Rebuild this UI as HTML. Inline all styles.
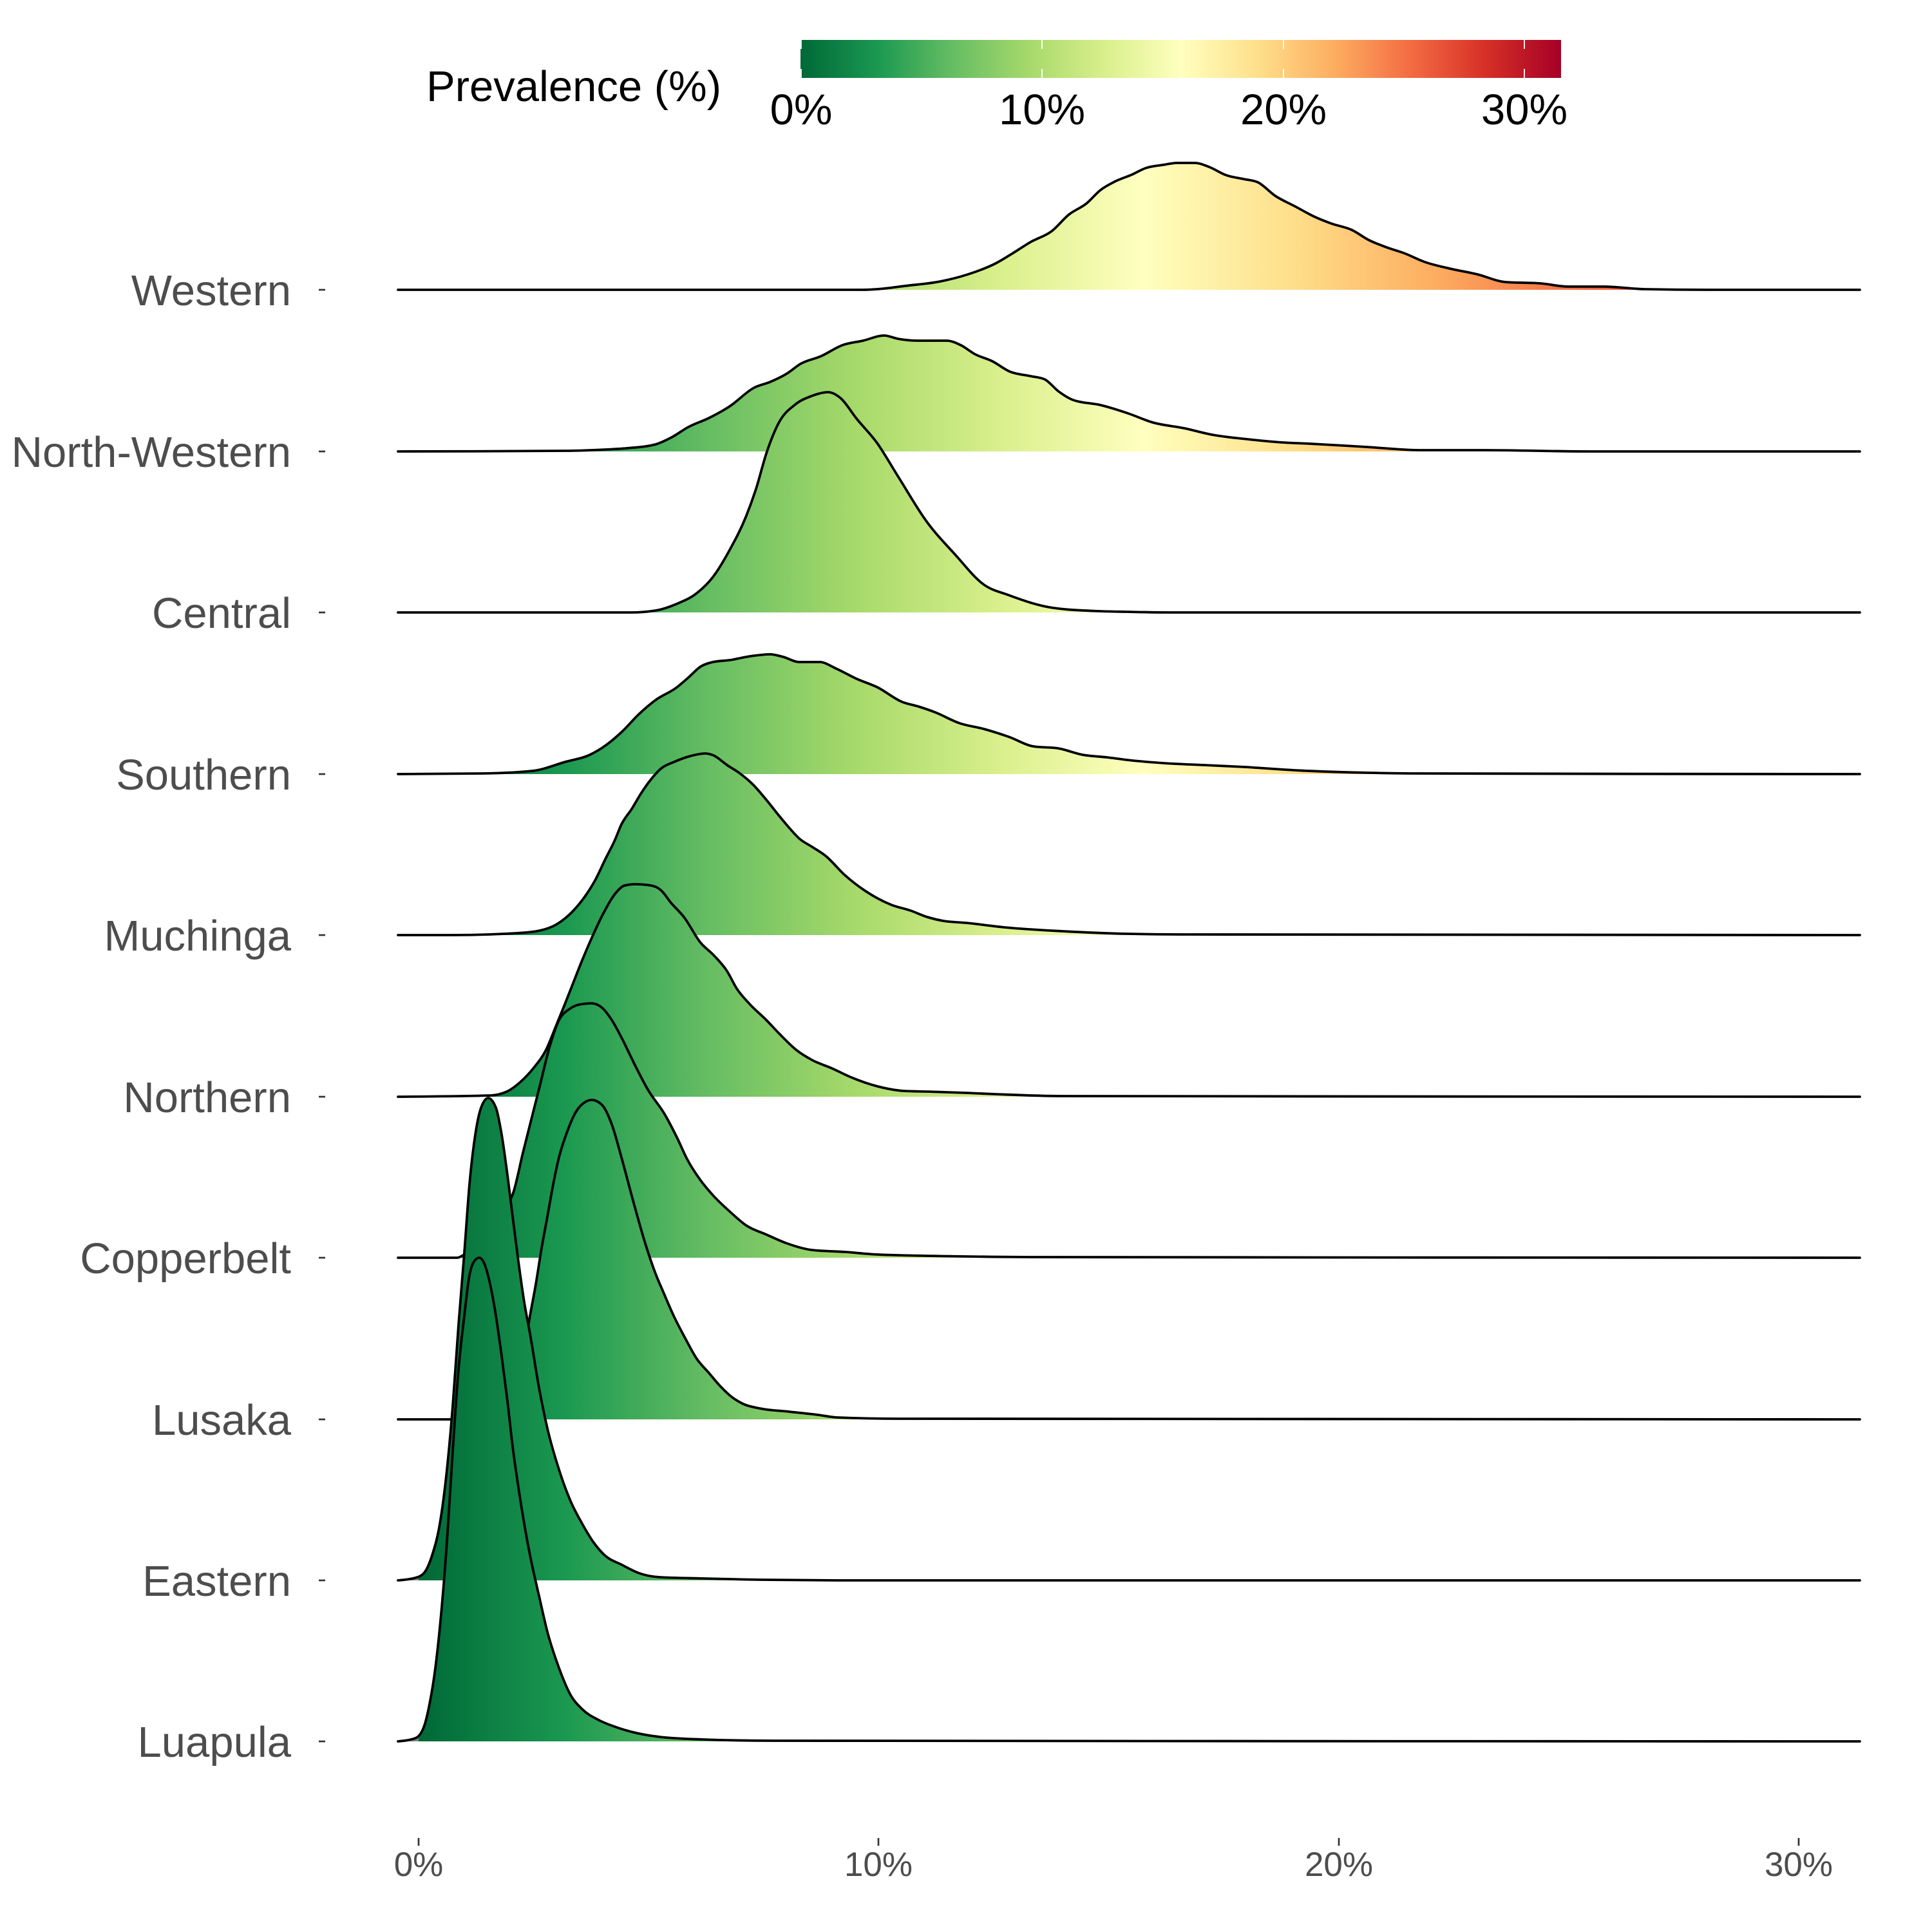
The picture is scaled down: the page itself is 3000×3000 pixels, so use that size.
<!DOCTYPE html>
<html>
<head>
<meta charset="utf-8">
<style>
  html, body { margin: 0; padding: 0; background: #ffffff; }
  svg { display: block; }
  .ylab { font-family: "Liberation Sans", Arial, sans-serif; font-size: 67px; fill: #4D4D4D; text-anchor: end; }
  .xlab { font-family: "Liberation Sans", Arial, sans-serif; font-size: 53px; fill: #4D4D4D; text-anchor: middle; }
  .leg  { font-family: "Liberation Sans", Arial, sans-serif; font-size: 67px; fill: #000000; text-anchor: middle; }
  .legt { font-family: "Liberation Sans", Arial, sans-serif; font-size: 67px; fill: #000000; }
  .ln { fill: none; stroke: #000; stroke-width: 3.8; stroke-linejoin: round; stroke-linecap: round; }
</style>
</head>
<body>
<svg width="3000" height="3000" viewBox="0 0 3000 3000" xmlns="http://www.w3.org/2000/svg">
  <defs>
    <linearGradient id="rg" gradientUnits="userSpaceOnUse" x1="600" y1="0" x2="2900" y2="0">
      <stop offset="0" stop-color="#7F7F7F"/>
      <stop offset="0.02174" stop-color="#7F7F7F"/>
      <stop offset="0.02174" stop-color="#006837"/>
      <stop offset="0.11957" stop-color="#1A9850"/>
      <stop offset="0.21739" stop-color="#66BD63"/>
      <stop offset="0.31522" stop-color="#A6D96A"/>
      <stop offset="0.41304" stop-color="#D9EF8B"/>
      <stop offset="0.51087" stop-color="#FFFFBF"/>
      <stop offset="0.60870" stop-color="#FEE08B"/>
      <stop offset="0.70652" stop-color="#FDAE61"/>
      <stop offset="0.80435" stop-color="#F46D43"/>
      <stop offset="0.90217" stop-color="#D73027"/>
      <stop offset="1" stop-color="#A50026"/>
    </linearGradient>
    <linearGradient id="cb" x1="0" y1="0" x2="1" y2="0">
      <stop offset="0" stop-color="#006837"/>
      <stop offset="0.1" stop-color="#1A9850"/>
      <stop offset="0.2" stop-color="#66BD63"/>
      <stop offset="0.3" stop-color="#A6D96A"/>
      <stop offset="0.4" stop-color="#D9EF8B"/>
      <stop offset="0.5" stop-color="#FFFFBF"/>
      <stop offset="0.6" stop-color="#FEE08B"/>
      <stop offset="0.7" stop-color="#FDAE61"/>
      <stop offset="0.8" stop-color="#F46D43"/>
      <stop offset="0.9" stop-color="#D73027"/>
      <stop offset="1" stop-color="#A50026"/>
    </linearGradient>
  </defs>

  <rect x="0" y="0" width="3000" height="3000" fill="#ffffff"/>

  <!-- Legend -->
  <text class="legt" x="662" y="157">Prevalence (%)</text>
  <rect x="1243" y="62" width="1181" height="59" fill="url(#cb)"/>
  <g stroke="#ffffff" stroke-width="1.8">
    <line x1="1244" y1="62" x2="1244" y2="76"/><line x1="1244" y1="107" x2="1244" y2="121"/>
    <line x1="1618" y1="62" x2="1618" y2="76"/><line x1="1618" y1="107" x2="1618" y2="121"/>
    <line x1="1993" y1="62" x2="1993" y2="76"/><line x1="1993" y1="107" x2="1993" y2="121"/>
    <line x1="2367" y1="62" x2="2367" y2="76"/><line x1="2367" y1="107" x2="2367" y2="121"/>
  </g>
  <text class="leg" x="1244" y="193">0%</text>
  <text class="leg" x="1618" y="193">10%</text>
  <text class="leg" x="1993" y="193">20%</text>
  <text class="leg" x="2367" y="193">30%</text>

  <!-- Y axis labels and ticks -->
  <text class="ylab" x="452" y="474">Western</text>
  <text class="ylab" x="452" y="725">North-Western</text>
  <text class="ylab" x="452" y="975">Central</text>
  <text class="ylab" x="452" y="1226">Southern</text>
  <text class="ylab" x="452" y="1476">Muchinga</text>
  <text class="ylab" x="452" y="1727">Northern</text>
  <text class="ylab" x="452" y="1977">Copperbelt</text>
  <text class="ylab" x="452" y="2228">Lusaka</text>
  <text class="ylab" x="452" y="2478">Eastern</text>
  <text class="ylab" x="452" y="2728">Luapula</text>
  <g stroke="#333333" stroke-width="2.7">
    <line x1="495" y1="450" x2="505" y2="450"/>
    <line x1="495" y1="701" x2="505" y2="701"/>
    <line x1="495" y1="951" x2="505" y2="951"/>
    <line x1="495" y1="1202" x2="505" y2="1202"/>
    <line x1="495" y1="1452" x2="505" y2="1452"/>
    <line x1="495" y1="1703" x2="505" y2="1703"/>
    <line x1="495" y1="1953" x2="505" y2="1953"/>
    <line x1="495" y1="2204" x2="505" y2="2204"/>
    <line x1="495" y1="2454" x2="505" y2="2454"/>
    <line x1="495" y1="2704" x2="505" y2="2704"/>
  </g>

  <!-- X axis ticks and labels -->
  <g stroke="#333333" stroke-width="2.7">
    <line x1="650" y1="2854" x2="650" y2="2866"/>
    <line x1="1364" y1="2854" x2="1364" y2="2866"/>
    <line x1="2079" y1="2854" x2="2079" y2="2866"/>
    <line x1="2793" y1="2854" x2="2793" y2="2866"/>
  </g>
  <text class="xlab" x="650" y="2913">0%</text>
  <text class="xlab" x="1364" y="2913">10%</text>
  <text class="xlab" x="2079" y="2913">20%</text>
  <text class="xlab" x="2793" y="2913">30%</text>

  <!-- Western -->
  <path fill="url(#rg)" d="M618,450 L1340,450 L1362,449 L1405,444 L1460,437 L1503,426 L1546,409 L1573,393 L1600,376 L1633,359 L1660,333 L1687,316 L1709,295 L1731,282 L1758,271 L1779,261 L1806,256 L1828,253 L1855,253 L1877,259 L1904,272 L1931,278 L1953,283 L1980,304 L2012,321 L2040,336 L2067,347 L2099,357 L2126,373 L2153,384 L2180,393 L2213,407 L2251,417 L2294,426 L2338,438 L2392,440 L2435,445 L2489,445 L2554,449 L2650,450 L2888,450 Z"/>
  <path class="ln" d="M618,450 L1340,450 L1362,449 L1405,444 L1460,437 L1503,426 L1546,409 L1573,393 L1600,376 L1633,359 L1660,333 L1687,316 L1709,295 L1731,282 L1758,271 L1779,261 L1806,256 L1828,253 L1855,253 L1877,259 L1904,272 L1931,278 L1953,283 L1980,304 L2012,321 L2040,336 L2067,347 L2099,357 L2126,373 L2153,384 L2180,393 L2213,407 L2251,417 L2294,426 L2338,438 L2392,440 L2435,445 L2489,445 L2554,449 L2650,450 L2888,450"/>

  <!-- North-Western -->
  <path fill="url(#rg)" d="M618,701 L878,700 L941,698 L973,696 L1018,690 L1043,679 L1069,663 L1101,649 L1133,631 L1171,602 L1196,593 L1222,580 L1243,565 L1275,553 L1308,536 L1340,529 L1373,521 L1394,526 L1427,529 L1470,529 L1492,536 L1514,550 L1541,561 L1568,577 L1600,584 L1622,589 L1644,608 L1666,621 L1709,629 L1752,642 L1790,656 L1839,665 L1882,675 L1937,682 L1991,687 L2034,689 L2088,692 L2121,694 L2208,699 L2305,699 L2468,701 L2888,701 Z"/>
  <path class="ln" d="M618,701 L878,700 L941,698 L973,696 L1018,690 L1043,679 L1069,663 L1101,649 L1133,631 L1171,602 L1196,593 L1222,580 L1243,565 L1275,553 L1308,536 L1340,529 L1373,521 L1394,526 L1427,529 L1470,529 L1492,536 L1514,550 L1541,561 L1568,577 L1600,584 L1622,589 L1644,608 L1666,621 L1709,629 L1752,642 L1790,656 L1839,665 L1882,675 L1937,682 L1991,687 L2034,689 L2088,692 L2121,694 L2208,699 L2305,699 L2468,701 L2888,701"/>

  <!-- Central -->
  <path fill="url(#rg)" d="M618,951 L980,951 L1018,948 L1050,938 L1082,921 L1107,896 L1133,854 L1158,803 L1174,759 L1190,704 L1209,657 L1235,628 L1260,615 L1286,609 L1305,618 L1330,650 L1362,688 L1394,739 L1439,810 L1483,861 L1528,908 L1566,924 L1636,944 L1707,949 L1750,950 L1817,951 L2888,951 Z"/>
  <path class="ln" d="M618,951 L980,951 L1018,948 L1050,938 L1082,921 L1107,896 L1133,854 L1158,803 L1174,759 L1190,704 L1209,657 L1235,628 L1260,615 L1286,609 L1305,618 L1330,650 L1362,688 L1394,739 L1439,810 L1483,861 L1528,908 L1566,924 L1636,944 L1707,949 L1750,950 L1817,951 L2888,951"/>

  <!-- Southern -->
  <path fill="url(#rg)" d="M618,1202 L750,1201 L827,1197 L878,1183 L916,1172 L941,1157 L967,1135 L992,1109 L1018,1087 L1050,1068 L1069,1052 L1088,1035 L1107,1028 L1133,1025 L1165,1019 L1196,1016 L1216,1020 L1241,1028 L1273,1028 L1298,1038 L1330,1054 L1362,1067 L1401,1090 L1426,1097 L1452,1106 L1490,1123 L1528,1132 L1566,1144 L1605,1159 L1643,1162 L1681,1172 L1719,1176 L1750,1180 L1807,1185 L1870,1188 L1933,1191 L2010,1196 L2127,1200 L2200,1201 L2888,1202 Z"/>
  <path class="ln" d="M618,1202 L750,1201 L827,1197 L878,1183 L916,1172 L941,1157 L967,1135 L992,1109 L1018,1087 L1050,1068 L1069,1052 L1088,1035 L1107,1028 L1133,1025 L1165,1019 L1196,1016 L1216,1020 L1241,1028 L1273,1028 L1298,1038 L1330,1054 L1362,1067 L1401,1090 L1426,1097 L1452,1106 L1490,1123 L1528,1132 L1566,1144 L1605,1159 L1643,1162 L1681,1172 L1719,1176 L1750,1180 L1807,1185 L1870,1188 L1933,1191 L2010,1196 L2127,1200 L2200,1201 L2888,1202"/>

  <!-- Muchinga -->
  <path fill="url(#rg)" d="M618,1452 L700,1452 L802,1449 L838,1445 L863,1436 L894,1410 L909,1391 L924,1367 L940,1334 L955,1304 L965,1280 L981,1256 L996,1231 L1011,1210 L1027,1193 L1047,1183 L1072,1174 L1095,1170 L1108,1173 L1129,1188 L1149,1201 L1169,1218 L1190,1242 L1210,1267 L1226,1286 L1241,1302 L1261,1315 L1282,1329 L1312,1359 L1343,1383 L1384,1405 L1414,1414 L1440,1424 L1465,1430 L1500,1433 L1560,1440 L1650,1446 L1750,1450 L1850,1451 L2888,1452 Z"/>
  <path class="ln" d="M618,1452 L700,1452 L802,1449 L838,1445 L863,1436 L894,1410 L909,1391 L924,1367 L940,1334 L955,1304 L965,1280 L981,1256 L996,1231 L1011,1210 L1027,1193 L1047,1183 L1072,1174 L1095,1170 L1108,1173 L1129,1188 L1149,1201 L1169,1218 L1190,1242 L1210,1267 L1226,1286 L1241,1302 L1261,1315 L1282,1329 L1312,1359 L1343,1383 L1384,1405 L1414,1414 L1440,1424 L1465,1430 L1500,1433 L1560,1440 L1650,1446 L1750,1450 L1850,1451 L2888,1452"/>

  <!-- Northern -->
  <path fill="url(#rg)" d="M618,1703 L761,1701 L787,1695 L807,1681 L828,1659 L848,1630 L863,1594 L876,1562 L889,1529 L904,1491 L919,1456 L937,1418 L955,1388 L970,1375 L986,1373 L1011,1375 L1027,1383 L1042,1402 L1062,1424 L1088,1464 L1108,1483 L1129,1508 L1144,1535 L1164,1559 L1190,1584 L1210,1605 L1236,1630 L1261,1646 L1292,1659 L1322,1673 L1363,1687 L1404,1694 L1440,1695 L1500,1697 L1546,1699 L1650,1702 L2888,1703 Z"/>
  <path class="ln" d="M618,1703 L761,1701 L787,1695 L807,1681 L828,1659 L848,1630 L863,1594 L876,1562 L889,1529 L904,1491 L919,1456 L937,1418 L955,1388 L970,1375 L986,1373 L1011,1375 L1027,1383 L1042,1402 L1062,1424 L1088,1464 L1108,1483 L1129,1508 L1144,1535 L1164,1559 L1190,1584 L1210,1605 L1236,1630 L1261,1646 L1292,1659 L1322,1673 L1363,1687 L1404,1694 L1440,1695 L1500,1697 L1546,1699 L1650,1702 L2888,1703"/>

  <!-- Copperbelt -->
  <path fill="url(#rg)" d="M618,1953 L710,1953 L721,1948 L740,1935 L760,1910 L780,1880 L797,1852 L812,1790 L838,1687 L853,1627 L868,1584 L884,1567 L899,1560 L919,1558 L935,1565 L950,1584 L965,1611 L986,1654 L1006,1692 L1032,1730 L1052,1768 L1067,1800 L1088,1833 L1108,1857 L1134,1882 L1159,1903 L1190,1917 L1220,1930 L1261,1941 L1312,1944 L1363,1948 L1500,1951 L1600,1952 L2888,1953 Z"/>
  <path class="ln" d="M618,1953 L710,1953 L721,1948 L740,1935 L760,1910 L780,1880 L797,1852 L812,1790 L838,1687 L853,1627 L868,1584 L884,1567 L899,1560 L919,1558 L935,1565 L950,1584 L965,1611 L986,1654 L1006,1692 L1032,1730 L1052,1768 L1067,1800 L1088,1833 L1108,1857 L1134,1882 L1159,1903 L1190,1917 L1220,1930 L1261,1941 L1312,1944 L1363,1948 L1500,1951 L1600,1952 L2888,1953"/>

  <!-- Lusaka -->
  <path fill="url(#rg)" d="M618,2204 L740,2204 L770,2198 L790,2185 L805,2140 L815,2090 L823,2043 L832,1994 L841,1938 L850,1889 L859,1839 L868,1797 L879,1762 L894,1727 L909,1711 L919,1708 L935,1716 L950,1746 L966,1801 L984,1868 L1002,1931 L1020,1983 L1029,2004 L1046,2043 L1064,2078 L1082,2110 L1100,2131 L1118,2152 L1136,2169 L1154,2180 L1180,2187 L1225,2192 L1270,2197 L1300,2201 L1400,2203 L2888,2204 Z"/>
  <path class="ln" d="M618,2204 L740,2204 L770,2198 L790,2185 L805,2140 L815,2090 L823,2043 L832,1994 L841,1938 L850,1889 L859,1839 L868,1797 L879,1762 L894,1727 L909,1711 L919,1708 L935,1716 L950,1746 L966,1801 L984,1868 L1002,1931 L1020,1983 L1029,2004 L1046,2043 L1064,2078 L1082,2110 L1100,2131 L1118,2152 L1136,2169 L1154,2180 L1180,2187 L1225,2192 L1270,2197 L1300,2201 L1400,2203 L2888,2204"/>

  <!-- Eastern -->
  <path fill="url(#rg)" d="M618,2454 L645,2450 L658,2443 L671,2415 L683,2366 L694,2282 L703,2183 L712,2057 L721,1945 L729,1839 L738,1762 L747,1720 L758,1705 L770,1720 L779,1762 L788,1825 L796,1889 L805,1959 L814,2022 L823,2071 L837,2155 L850,2218 L868,2282 L886,2331 L904,2366 L921,2394 L939,2415 L966,2430 L993,2443 L1024,2449 L1091,2451 L1180,2453 L1300,2454 L2888,2454 Z"/>
  <path class="ln" d="M618,2454 L645,2450 L658,2443 L671,2415 L683,2366 L694,2282 L703,2183 L712,2057 L721,1945 L729,1839 L738,1762 L747,1720 L758,1705 L770,1720 L779,1762 L788,1825 L796,1889 L805,1959 L814,2022 L823,2071 L837,2155 L850,2218 L868,2282 L886,2331 L904,2366 L921,2394 L939,2415 L966,2430 L993,2443 L1024,2449 L1091,2451 L1180,2453 L1300,2454 L2888,2454"/>

  <!-- Luapula -->
  <path fill="url(#rg)" d="M618,2704 L645,2699 L658,2682 L667,2646 L676,2590 L685,2506 L694,2394 L703,2253 L712,2127 L721,2043 L729,1980 L736,1959 L744,1953 L752,1962 L761,1994 L770,2043 L779,2106 L788,2176 L796,2246 L805,2310 L814,2366 L823,2415 L837,2478 L850,2534 L868,2590 L886,2632 L904,2654 L930,2671 L957,2682 L984,2690 L1024,2697 L1091,2701 L1200,2703 L2888,2704 Z"/>
  <path class="ln" d="M618,2704 L645,2699 L658,2682 L667,2646 L676,2590 L685,2506 L694,2394 L703,2253 L712,2127 L721,2043 L729,1980 L736,1959 L744,1953 L752,1962 L761,1994 L770,2043 L779,2106 L788,2176 L796,2246 L805,2310 L814,2366 L823,2415 L837,2478 L850,2534 L868,2590 L886,2632 L904,2654 L930,2671 L957,2682 L984,2690 L1024,2697 L1091,2701 L1200,2703 L2888,2704"/>
</svg>
<script>
(function () {
  function sign(v) { return v < 0 ? -1 : 1; }
  function slope3(x0, y0, x1, y1, x2, y2) {
    var h0 = x1 - x0, h1 = x2 - x1;
    var s0 = (y1 - y0) / (h0 || 1e-9), s1 = (y2 - y1) / (h1 || 1e-9);
    var p = (s0 * h1 + s1 * h0) / (h0 + h1);
    var r = (sign(s0) + sign(s1)) * Math.min(Math.abs(s0), Math.abs(s1), 0.5 * Math.abs(p));
    return r || 0;
  }
  function slope2(x0, y0, x1, y1, t) {
    var h = x1 - x0;
    return h ? (3 * (y1 - y0) / h - t) / 2 : t;
  }
  try {
    var paths = document.querySelectorAll('svg path');
    for (var k = 0; k < paths.length; k++) {
      var el = paths[k];
      var d = el.getAttribute('d');
      var closed = /Z\s*$/.test(d);
      var nums = d.replace(/[MLZ]/g, ' ').trim().split(/[\s,]+/).map(Number);
      var pts = [];
      for (var i = 0; i + 1 < nums.length; i += 2) pts.push([nums[i], nums[i + 1]]);
      var n = pts.length;
      if (n < 3) continue;
      var m = new Array(n);
      for (i = 1; i < n - 1; i++) {
        m[i] = slope3(pts[i - 1][0], pts[i - 1][1], pts[i][0], pts[i][1], pts[i + 1][0], pts[i + 1][1]);
      }
      m[0] = slope2(pts[0][0], pts[0][1], pts[1][0], pts[1][1], m[1]);
      m[n - 1] = slope2(pts[n - 2][0], pts[n - 2][1], pts[n - 1][0], pts[n - 1][1], m[n - 2]);
      var out = 'M' + pts[0][0] + ',' + pts[0][1];
      for (i = 0; i < n - 1; i++) {
        var x0 = pts[i][0], y0 = pts[i][1], x1 = pts[i + 1][0], y1 = pts[i + 1][1];
        var dx = (x1 - x0) / 3;
        out += ' C' + (x0 + dx).toFixed(2) + ',' + (y0 + dx * m[i]).toFixed(2) + ' ' +
               (x1 - dx).toFixed(2) + ',' + (y1 - dx * m[i + 1]).toFixed(2) + ' ' + x1 + ',' + y1;
      }
      if (closed) out += ' Z';
      el.setAttribute('d', out);
    }
  } catch (e) {}
})();
</script>
</body>
</html>
